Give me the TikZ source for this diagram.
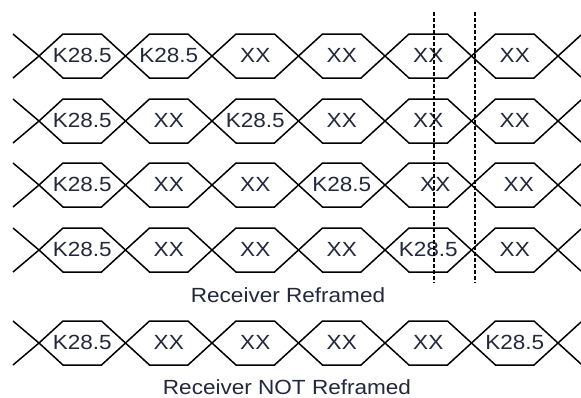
\documentclass[tikz,border=0pt]{standalone}
\usepackage{fontspec}
\setmainfont[FakeStretch=1.1]{Liberation Sans}
\definecolor{txt}{RGB}{35,40,62}
\tikzset{
  wave/.style={line width=1.5pt, black},
  lbl/.style={font=\fontsize{20.5}{24}\selectfont, text=txt, inner sep=0pt},
  cutline/.style={line width=1.8pt, black, dash pattern=on 4pt off 2pt},
}
\begin{document}
\begin{tikzpicture}[x=1pt,y=-1pt]
\useasboundingbox (0,0) rectangle (581,397);
\fill[white] (0,0) rectangle (581,397);
\foreach \y/\labs [count=\r] in {56/{K28.5,K28.5,XX,XX,XX,XX},121/{K28.5,XX,K28.5,XX,XX,XX},185/{K28.5,XX,XX,K28.5,XX,XX},250/{K28.5,XX,XX,XX,K28.5,XX},343/{K28.5,XX,XX,XX,XX,K28.5}}{
  \draw[wave] (13,\y-22) -- (39,\y) -- (13,\y+22);
  \draw[wave] (581,\y-21) -- (558,\y) -- (581,\y+21);
  \foreach \t [count=\i from 0] in \labs {
    \pgfmathsetmacro{\c}{39+86.5*\i}
    \pgfmathsetmacro{\dx}{(\r==3)*((\i==4)*7+(\i==5)*4)}
    \draw[wave] (\c,\y) -- (\c+24,\y-22) -- (\c+62.5,\y-22) -- (\c+86.5,\y);
    \draw[wave] (\c,\y) -- (\c+24,\y+22) -- (\c+62.5,\y+22) -- (\c+86.5,\y);
    \node[lbl] (r\r c\i) at (\c+43.25+\dx,\y-1) {\t};
  }
}
\coordinate (d1t) at (434,12);
\coordinate (d1b) at (434,283);
\coordinate (d2t) at (475,12);
\coordinate (d2b) at (475,283);
\draw[cutline] (d1t) -- (d1b);
\draw[cutline] (d2t) -- (d2b);
\node[lbl, anchor=base] (cap1) at (288,302) {Receiver Reframed};
\node[lbl, anchor=base] (cap2) at (287,394) {Receiver NOT Reframed};
\end{tikzpicture}
\end{document}
